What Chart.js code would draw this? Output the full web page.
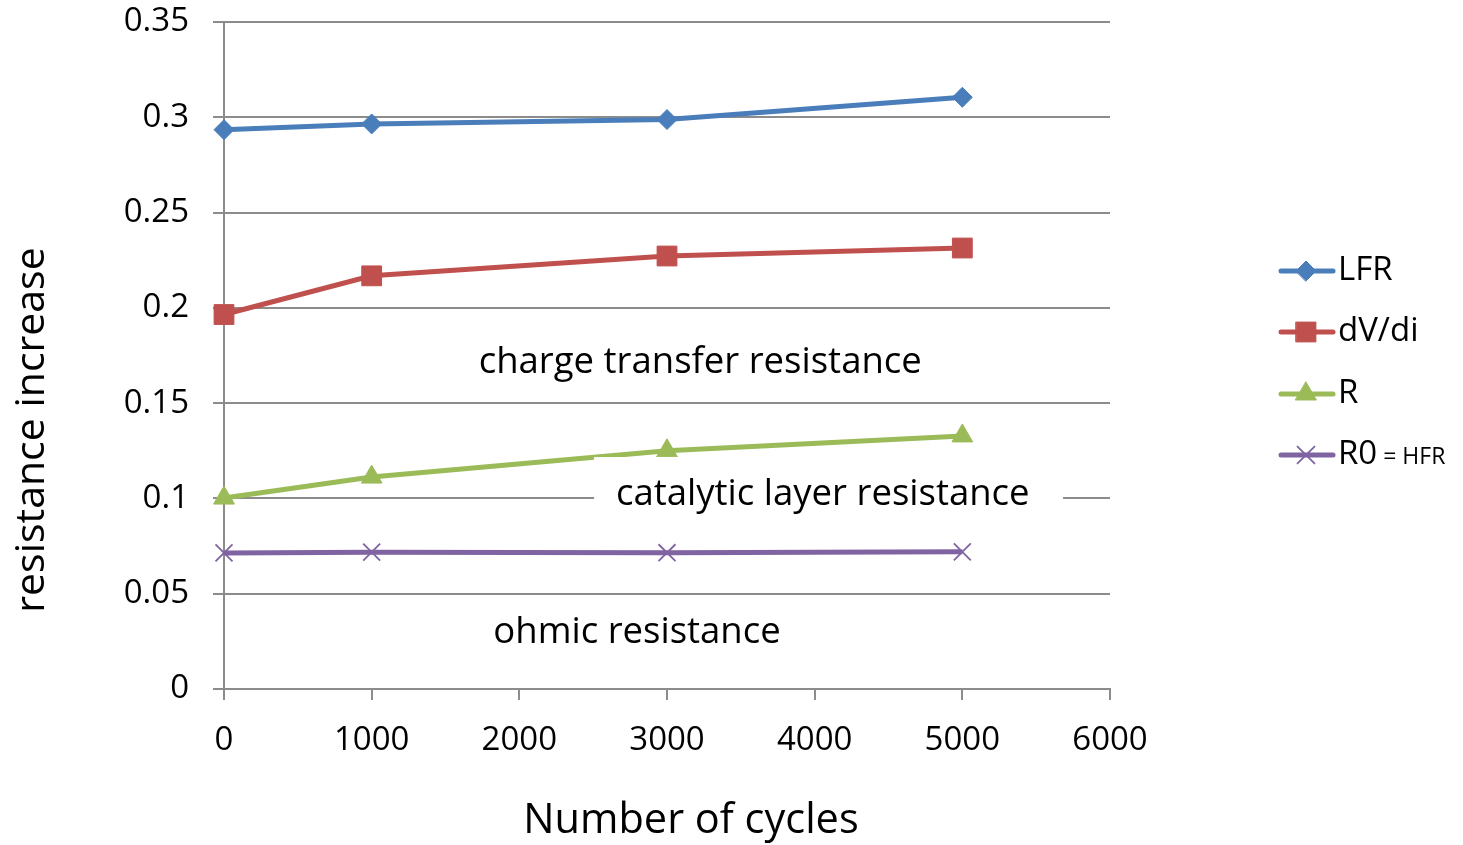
<!DOCTYPE html>
<html>
<head>
<meta charset="utf-8">
<script src="https://cdn.jsdelivr.net/npm/chart.js@4.4.1/dist/chart.umd.min.js"></script>
<style>
  html, body { margin: 0; padding: 0; background: #fff; }
  #wrap { width: 1463px; height: 845px; }
</style>
</head>
<body>
<div id="wrap"><canvas id="chart" width="1463" height="845"></canvas></div>
<script>
// data
const cycles = [0, 1000, 3000, 5000];
const lfr = [0.2935, 0.2965, 0.2988, 0.3105];
const dvdi = [0.1965, 0.2168, 0.2272, 0.2314];
const rVals = [0.1002, 0.1112, 0.1250, 0.1328];
const r0 = [0.0714, 0.0718, 0.0715, 0.0720];

const yTickLabels = ['0', '0.05', '0.1', '0.15', '0.2', '0.25', '0.3', '0.35'];
const xTickLabels = ['0', '1000', '2000', '3000', '4000', '5000', '6000'];

const seriesNames = ['LFR', 'dV/di', 'R', 'R0'];
const colors = ['#4a7ebb', '#c0504d', '#9bbb59', '#8064a2'];
const markers = ['rectRot', 'rect', 'triangle', 'crossRot'];
const markerSize = [10, 14, 12, 12];

// annotations in data coordinates
const notes = [
    { text: 'charge transfer resistance', x: 3225, y: 0.1715 },
    { text: 'catalytic layer resistance', x: 4055, y: 0.1022, box: [2506, 5682, 0.1217, 0.084] },
    { text: 'ohmic resistance', x: 2797, y: 0.0298 },
];

const FONT = '"Open Sans", "Noto Sans", sans-serif';

const pts = vals => cycles.map((c, i) => ({ x: c, y: vals[i] }));
const allVals = [lfr, dvdi, rVals, r0];

const datasets = allVals.map((vals, i) => ({
    label: seriesNames[i],
    data: pts(vals),
    borderColor: colors[i],
    backgroundColor: colors[i],
    borderWidth: 5,
    pointStyle: markers[i],
    pointRadius: markerSize[i],
    pointHoverRadius: markerSize[i],
    pointBackgroundColor: colors[i],
    pointBorderColor: colors[i],
    pointBorderWidth: i === 3 ? 1.8 : 1,
    tension: 0,
    clip: false,
}));

const extras = {
    id: 'extras',
    afterDatasetsDraw(chart) {
        const { ctx, scales: { x, y } } = chart;
        ctx.save();
        notes.forEach(n => {
            if (n.box) {
                const l = x.getPixelForValue(n.box[0]);
                const r = x.getPixelForValue(n.box[1]);
                const t = y.getPixelForValue(n.box[2]);
                const b = y.getPixelForValue(n.box[3]);
                ctx.fillStyle = '#fff';
                ctx.fillRect(l, t, r - l, b - t);
            }
            ctx.fillStyle = '#000';
            ctx.font = '36.5px ' + FONT;
            ctx.textAlign = 'center';
            ctx.textBaseline = 'middle';
            ctx.fillText(n.text, x.getPixelForValue(n.x), y.getPixelForValue(n.y));
        });
        ctx.restore();
    },
    afterDraw(chart) {
        const { ctx } = chart;
        ctx.save();
        // axis titles
        ctx.fillStyle = '#000';
        ctx.font = '41.5px ' + FONT;
        ctx.textAlign = 'center';
        ctx.textBaseline = 'middle';
        ctx.fillText('Number of cycles', 691, 821);
        ctx.translate(32, 430);
        ctx.rotate(-Math.PI / 2);
        ctx.font = '41px ' + FONT;
        ctx.fillText('resistance increase', 0, 0);
        ctx.restore();

        // legend
        ctx.save();
        const rows = [271, 332, 394, 455];
        seriesNames.forEach((name, i) => {
            const yy = rows[i];
            ctx.strokeStyle = colors[i];
            ctx.lineWidth = 5;
            ctx.lineCap = 'round';
            ctx.beginPath();
            ctx.moveTo(1281, yy);
            ctx.lineTo(1333, yy);
            ctx.stroke();
            ctx.fillStyle = colors[i];
            ctx.lineWidth = i === 3 ? 1.8 : 1;
            Chart.helpers.drawPoint(ctx, { pointStyle: markers[i], radius: markerSize[i], rotation: 0, borderWidth: ctx.lineWidth }, 1306, yy);
            ctx.fillStyle = '#000';
            ctx.textAlign = 'left';
            ctx.textBaseline = 'middle';
            ctx.font = '33px ' + FONT;
            ctx.fillText(name, 1338, yy);
            if (i === 3) {
                const w = ctx.measureText(name).width;
                ctx.font = '23px ' + FONT;
                ctx.fillText(' = HFR', 1338 + w, yy + 2);
            }
        });
        ctx.restore();
    }
};

new Chart(document.getElementById('chart'), {
    type: 'line',
    data: { datasets },
    options: {
        responsive: false,
        animation: false,
        events: [],
        layout: { padding: { top: 22, right: 353, bottom: 0, left: 0 } },
        plugins: { legend: { display: false }, tooltip: { enabled: false } },
        scales: {
            x: {
                type: 'linear',
                min: 0,
                max: 6000,
                ticks: {
                    stepSize: 1000,
                    color: '#000',
                    font: { family: FONT, size: 33 },
                    padding: 21,
                    maxRotation: 0,
                    callback: (v, i) => xTickLabels[i],
                },
                grid: { drawOnChartArea: false, color: '#8c8c8c', lineWidth: 2, tickLength: 11 },
                border: { color: '#8c8c8c', width: 2 },
                afterFit: s => { s.height = 156; s.paddingLeft = 0; s.paddingRight = 0; },
            },
            y: {
                min: 0,
                max: 0.35,
                ticks: {
                    stepSize: 0.05,
                    color: '#000',
                    font: { family: FONT, size: 33 },
                    padding: 24,
                    callback: (v, i) => yTickLabels[i],
                },
                grid: { color: '#8c8c8c', lineWidth: 2, tickLength: 11 },
                border: { color: '#8c8c8c', width: 2 },
                afterFit: s => { s.width = 224; s.paddingTop = 0; s.paddingBottom = 0; },
            },
        },
    },
    plugins: [extras],
});
</script>
</body>
</html>
